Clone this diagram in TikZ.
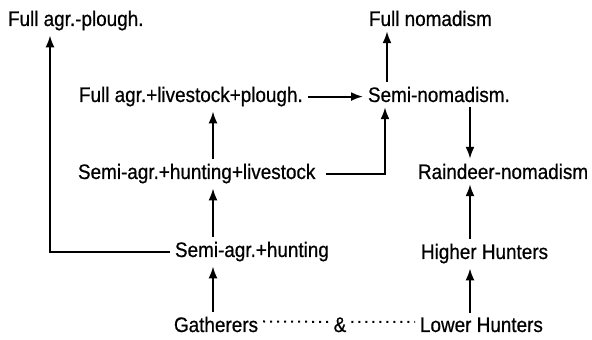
\documentclass[tikz,border=0pt]{standalone}
\usepackage{fontspec}
\setmainfont[FakeStretch=0.9, FakeBold=0.6]{Liberation Sans}
\usetikzlibrary{arrows.meta}
\usetikzlibrary{calc}

\begin{document}
\begin{tikzpicture}[
x=1pt, y=1pt,
stage/.style={anchor=base west, inner sep=0pt, outer sep=5pt, font=\fontsize{21}{25}\selectfont},
link/.style={-{Latex[length=12pt, width=9pt]}, line width=2pt},
dotline/.style={line width=2pt, dash pattern=on 2pt off 5pt}
]
\useasboundingbox (0,0) rectangle (592,340);

\def\colL{213}
\def\colM{387}
\def\colR{470}
\def\farL{50}
\def\bendM{385}

\coordinate (colL) at (\colL, 0);
\coordinate (colM) at (\colM, 0);
\coordinate (colR) at (\colR, 0);
\coordinate (farL) at (\farL, 0);
\coordinate (bendM) at (\bendM, 0);

\node[stage] (fullplough) at (3, 314) {Full agr.-plough.};
\node[stage] (fullnomad) at (364, 314) {Full nomadism};
\node[stage] (fullplive) at (74, 238) {Full agr.+livestock+plough.};
\node[stage] (seminomad) at (363, 238) {Semi-nomadism.};
\node[stage] (semilive) at (73, 161) {Semi-agr.+hunting+livestock};
\node[stage] (rainnomad) at (413, 161) {Raindeer-nomadism};
\node[stage] (semihunt) at (170, 83) {Semi-agr.+hunting};
\node[stage] (higher) at (416, 81) {Higher Hunters};
\node[stage] (gath) at (169, 8) {Gatherers};
\node[stage, anchor=base] (amp) at (340, 8) {\&};
\node[stage] (lower) at (415, 8) {Lower Hunters};

% left column
\draw[link] (gath.north -| colL) -- (semihunt.south -| colL);
\draw[link] (semihunt.north -| colL) -- (semilive.south -| colL);
\draw[link] (semilive.north -| colL) -- (fullplive.south -| colL);
\draw[link] (semihunt.west) -| (fullplough.south -| farL);

% middle
\draw[link] (fullplive.east) -- (seminomad.west |- fullplive.east);
\draw[link] ([xshift=6pt]semilive.east) -| (seminomad.south -| bendM);
\draw[link] (seminomad.north -| colM) -- (fullnomad.south -| colM);

% right column
\draw[link] (seminomad.south -| colR) -- (rainnomad.north -| colR);
\draw[link] (higher.north -| colR) -- (rainnomad.south -| colR);
\draw[link] (lower.north -| colR) -- (higher.south -| colR);

\draw[dotline] ([yshift=3pt]gath.east) -- ([yshift=3pt]amp.west);
\draw[dotline] ([yshift=3pt]amp.east) -- ([yshift=3pt]lower.west);
\end{tikzpicture}
\end{document}
